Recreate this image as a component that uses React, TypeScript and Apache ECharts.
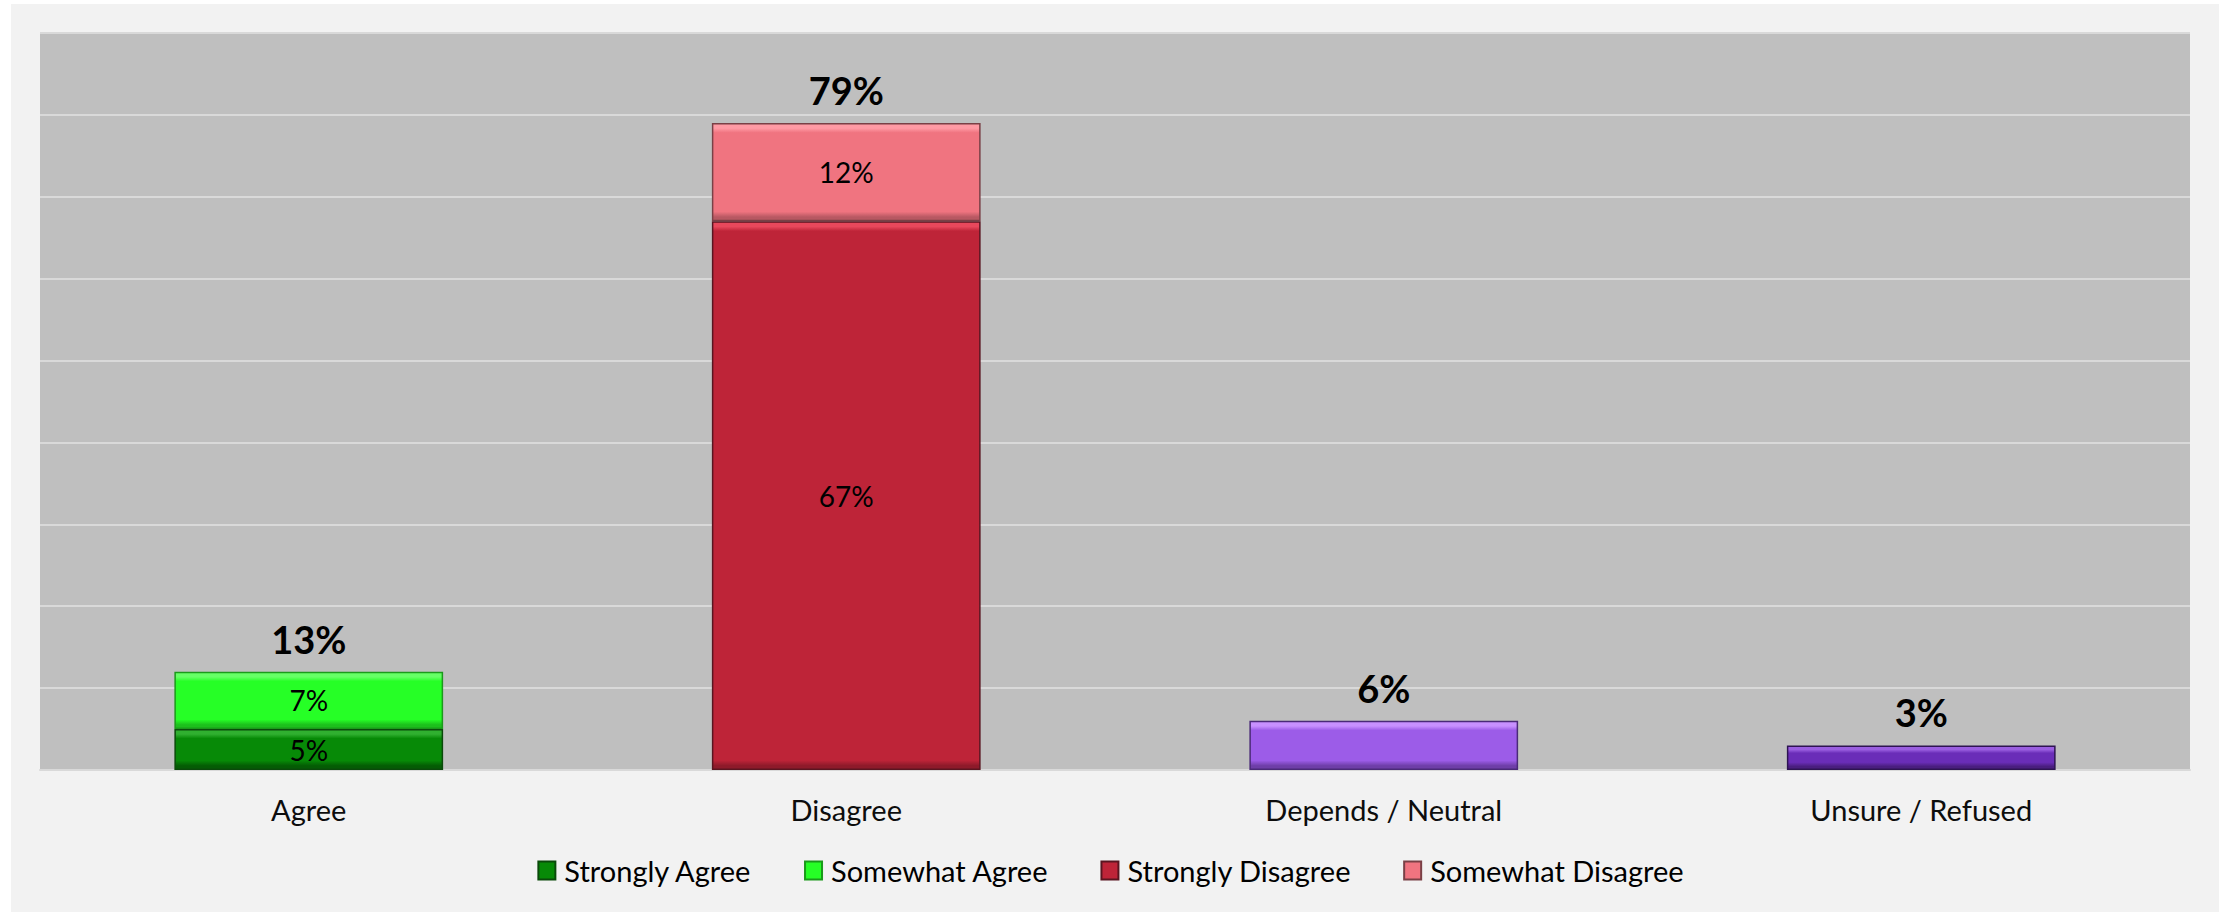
import React, { useEffect, useRef } from "react";
import * as echarts from "echarts";

const categories = ["Agree", "Disagree", "Depends / Neutral", "Unsure / Refused"];
const stronglyAgree = [5, null, null, null];
const somewhatAgree = [7, null, null, null];
const stronglyDisagree = [null, 67, null, null];
const somewhatDisagree = [null, 12, null, null];
const dependsNeutral = [null, null, 6, null];
const unsureRefused = [null, null, null, 3];
const totals = [13, 79, 6, 3];
const legendNames = ["Strongly Agree", "Somewhat Agree", "Strongly Disagree", "Somewhat Disagree"];
const yTicks = { min: 0, max: 90, interval: 10 };

const FONT = "Lato, 'Noto Sans', sans-serif";
const PX_PER_UNIT = 8.19;
const BAND_PX = 9;

function bevel(v: number, base: string, light: string, dark: string) {
  const h = v * PX_PER_UNIT;
  const b = Math.min(0.3, BAND_PX / h);
  return {
    type: "linear",
    x: 0,
    y: 0,
    x2: 0,
    y2: 1,
    colorStops: [
      { offset: 0, color: light },
      { offset: b * 0.5, color: light },
      { offset: b, color: base },
      { offset: 1 - b, color: base },
      { offset: 1 - b * 0.4, color: dark },
      { offset: 1, color: dark },
    ],
  };
}

export default function App() {
  const ref = useRef<HTMLDivElement>(null);
  useEffect(() => {
    if (!ref.current) return;
    const chart = echarts.init(ref.current, null, { renderer: "svg" });
    const segLabel = {
      show: true,
      position: "inside",
      fontFamily: FONT,
      fontSize: 28,
      color: "#000",
      formatter: (p: any) => `${p.value}%`,
    };
    const mk = (name: string, data: any[], base: string, light: string, dark: string, border: string, label: any) => ({
      name,
      type: "bar",
      stack: "all",
      barWidth: "50%",
      data: data.map((v) =>
        v == null ? null : { value: v, itemStyle: { color: bevel(v, base, light, dark) } }
      ),
      itemStyle: { color: base, borderColor: border, borderWidth: 1.5 },
      label,
      emphasis: { disabled: true },
    });
    chart.setOption({
      animation: false,
      backgroundColor: "#ffffff",
      graphic: [
        {
          type: "rect",
          z: -10,
          silent: true,
          shape: { x: 11, y: 4, width: 2208, height: 908 },
          style: { fill: "#f2f2f2" },
        },
      ],
      grid: {
        left: 40,
        right: 31,
        top: 33,
        bottom: 142,
        show: true,
        backgroundColor: "#bfbfbf",
        borderWidth: 0,
      },
      legend: {
        data: legendNames,
        left: "center",
        top: 851,
        itemWidth: 17,
        itemHeight: 18,
        itemGap: 52,
        icon: "rect",
        textStyle: { fontFamily: FONT, fontSize: 29, color: "#000", padding: [0, 0, 0, 4] },
      },
      xAxis: {
        type: "category",
        data: categories,
        axisTick: { show: false },
        axisLine: { lineStyle: { color: "#d9d9d9", width: 2 } },
        axisLabel: { fontFamily: FONT, fontSize: 29, color: "#0d0d0d", margin: 25 },
      },
      yAxis: {
        type: "value",
        min: yTicks.min,
        max: yTicks.max,
        interval: yTicks.interval,
        axisLabel: { show: false },
        axisLine: { show: false },
        axisTick: { show: false },
        splitLine: { lineStyle: { color: "#d9d9d9", width: 2 } },
      },
      series: [
        mk("Strongly Agree", stronglyAgree, "#078a07", "#30b030", "#045c04", "#0a4a0a", segLabel),
        mk("Somewhat Agree", somewhatAgree, "#26ff26", "#66ff66", "#1cc01c", "#1a9a1a", segLabel),
        mk("Strongly Disagree", stronglyDisagree, "#be2438", "#e8485c", "#8e1a2a", "#5a1520", segLabel),
        mk("Somewhat Disagree", somewhatDisagree, "#f07480", "#ff9aa4", "#b85862", "#7a4046", segLabel),
        mk("Depends / Neutral", dependsNeutral, "#9c5ce8", "#c890ff", "#6e3ea8", "#4a2a78", { show: false }),
        mk("Unsure / Refused", unsureRefused, "#6a2db8", "#9a5ee0", "#4a1e80", "#2e1452", { show: false }),
        {
          name: "Total",
          type: "bar",
          stack: "all",
          barWidth: "50%",
          data: totals.map(() => 0),
          itemStyle: { color: "transparent" },
          emphasis: { disabled: true },
          label: {
            show: true,
            position: "top",
            distance: 14,
            fontFamily: FONT,
            fontSize: 38,
            fontWeight: "bold",
            color: "#000",
            formatter: (p: any) => `${totals[p.dataIndex]}%`,
          },
        },
      ],
    });
    return () => chart.dispose();
  }, []);
  return (
    <div
      ref={ref}
      style={{ position: "absolute", left: 0, top: 0, width: 2221, height: 912 }}
    />
  );
}
